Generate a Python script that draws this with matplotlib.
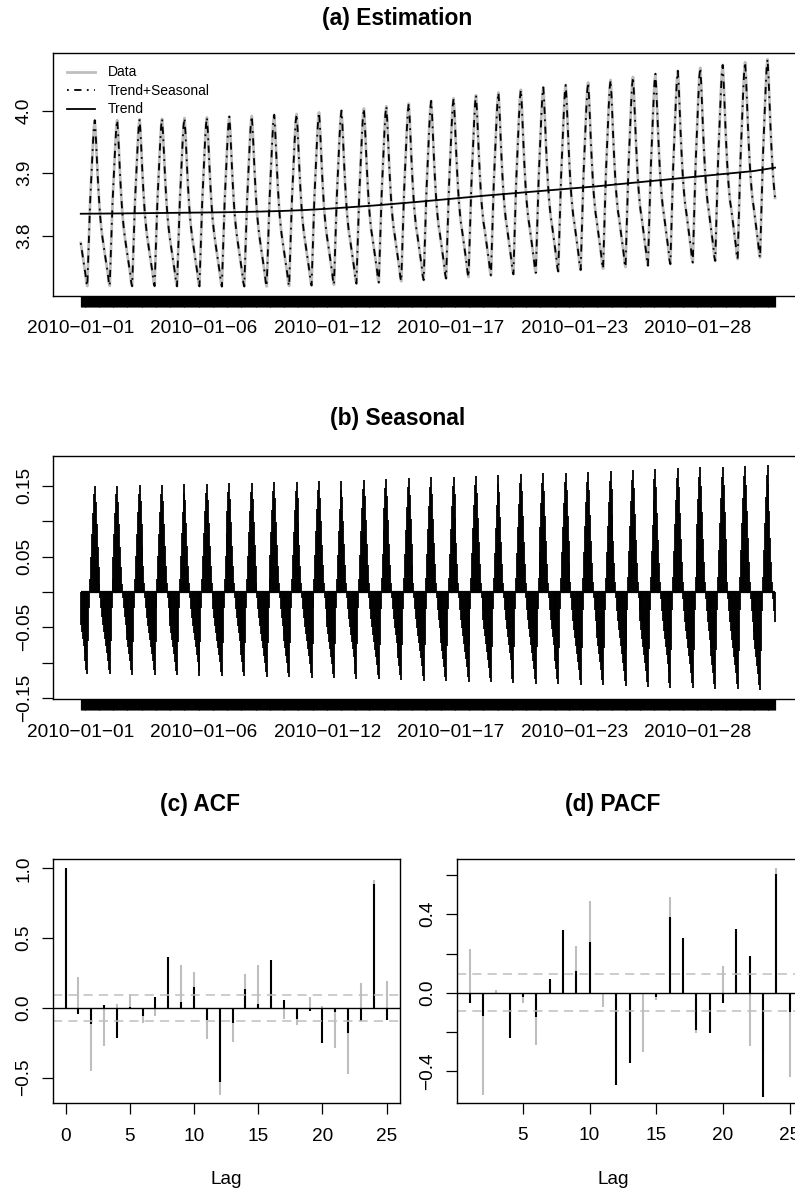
import numpy as np
import pandas as pd
import matplotlib
matplotlib.use("Agg")
import matplotlib.pyplot as plt

plt.rcParams['font.family'] = ['Liberation Sans', 'DejaVu Sans']

# ---------------- data ----------------
start_date = "2010-01-01"
n_hours = 744
tick_every = 132

# hourly seasonal profile (hour 0..23)
seasonal_profile = [-0.047, -0.057, -0.067, -0.077, -0.087, -0.097,
                    -0.110, -0.116, -0.070, -0.022, 0.018, 0.050,
                    0.082, 0.112, 0.138, 0.150, 0.128, 0.096,
                    0.064, 0.036, 0.012, -0.008, -0.023, -0.036]

# daily amplitude multiplier of the seasonal profile (31 days)
daily_amplitude = [1.000, 1.000, 1.007, 1.009, 1.015, 1.019, 1.025, 1.028,
                   1.035, 1.037, 1.044, 1.050, 1.056, 1.063, 1.072, 1.081,
                   1.087, 1.097, 1.103, 1.113, 1.119, 1.125, 1.131, 1.138,
                   1.147, 1.157, 1.166, 1.175, 1.182, 1.188, 1.197]

# trend at day boundaries (day 0 .. day 31)
trend_daily = [3.8350, 3.8353, 3.8356, 3.8360, 3.8364, 3.8368, 3.8372, 3.8377,
               3.8385, 3.8395, 3.8410, 3.8430, 3.8455, 3.8480, 3.8510, 3.8540,
               3.8573, 3.8606, 3.8640, 3.8670, 3.8700, 3.8730, 3.8760, 3.8790,
               3.8825, 3.8860, 3.8895, 3.8930, 3.8965, 3.9000, 3.9035, 3.9090]

acf_lags = list(range(26))
acf_black = [1.0, -0.048, -0.113, 0.020, -0.216, 0.005, -0.058, 0.080, 0.363,
             0.038, 0.147, -0.089, -0.534, -0.108, 0.135, 0.026, 0.344, 0.055,
             -0.082, -0.022, -0.250, -0.029, -0.180, -0.096, 0.885, -0.089]
acf_grey = [1.0, 0.224, -0.450, -0.276, 0.024, 0.096, -0.108, -0.058, 0.050,
            0.308, 0.255, -0.221, -0.625, -0.245, 0.243, 0.308, 0.100, -0.077,
            -0.120, 0.080, 0.010, -0.288, -0.474, 0.175, 0.920, 0.192]

pacf_lags = list(range(1, 26))
pacf_black = [-0.054, -0.117, -0.003, -0.231, -0.020, -0.122, 0.071, 0.319,
              0.112, 0.260, -0.004, -0.470, -0.357, -0.004, -0.020, 0.387,
              0.280, -0.190, -0.204, -0.054, 0.324, 0.189, -0.533, 0.603, -0.097]
pacf_grey = [0.221, -0.521, 0.012, -0.100, -0.051, -0.267, 0.030, 0.100,
             0.238, 0.469, -0.071, -0.300, -0.200, -0.300, -0.037, 0.489,
             0.100, -0.204, -0.100, 0.136, 0.100, -0.270, -0.300, 0.634, -0.428]

ci_level = 0.095

titles = ["(a) Estimation", "(b) Seasonal", "(c) ACF", "(d) PACF"]

# ---------------- derived series ----------------
hours = np.arange(n_hours)
day = hours // 24
hod = hours % 24
dates = pd.date_range(start_date, periods=n_hours, freq="h")
seasonal = np.array(daily_amplitude)[day] * np.array(seasonal_profile)[hod]
trend_h = np.array(trend_daily)[day]
fit = trend_h + seasonal
data = fit.copy()
trend_x = np.minimum(np.arange(len(trend_daily)) * 24, n_hours - 1)

MINUS = "\u2212"
def fmt(v, nd):
    s = f"{v:.{nd}f}"
    return s.replace("-", MINUS)

# ---------------- figure ----------------
W, H = 795, 1197
fig = plt.figure(figsize=(W / 100, H / 100), dpi=100)

def ax_px(left, top, right, bottom):
    return fig.add_axes([left / W, 1 - bottom / H, (right - left) / W, (bottom - top) / H])

FS = 13.7
GREY = "#BEBEBE"

def style(ax):
    for s in ax.spines.values():
        s.set_linewidth(1.0)
    ax.tick_params(axis="both", which="both", direction="out", length=8, width=0.9,
                   labelsize=FS)
    ax.tick_params(axis="x", pad=9.5)
    ax.tick_params(axis="y", pad=6.5)

def date_axis(ax):
    ax.set_xlim(-0.04 * (n_hours - 1), (n_hours - 1) * 1.04)
    major = hours[::tick_every]
    ax.set_xticks(major)
    ax.set_xticklabels([dates[i].strftime("%Y-%m-%d").replace("-", MINUS) for i in major])
    ax.set_xticks(hours, minor=True)
    ax.tick_params(axis="x", which="minor", length=8, width=0.9)

# (a) Estimation
ax1 = ax_px(53, 53, 802.8, 296)
style(ax1)
ax1.plot(hours, data, color=GREY, lw=2.0, label="Data")
ax1.plot(hours, fit, color="black", lw=1.3, ls=(0, (1, 3, 4, 3)), label="Trend+Seasonal")
ax1.plot(trend_x, trend_daily, color="black", lw=1.3, label="Trend")
date_axis(ax1)
ax1.set_ylim(3.703, 4.093)
yt = [3.8, 3.9, 4.0]
ax1.set_yticks(yt)
ax1.set_yticklabels([fmt(v, 1) for v in yt], rotation=90, va="center")
ax1.legend(loc="upper left", bbox_to_anchor=(66.7 / W, 1 - 65.5 / H),
           bbox_transform=fig.transFigure, frameon=False, fontsize=10,
           borderpad=0, borderaxespad=0, handlelength=2.04, handletextpad=0.94,
           labelspacing=0.32)

# (b) Seasonal
ax2 = ax_px(53, 456, 802.8, 699.3)
style(ax2)
ax2.vlines(hours, 0, seasonal, color="black", lw=1.3)
ax2.hlines(0, hours[0], hours[-1], color="black", lw=1.6)
date_axis(ax2)
ax2.set_ylim(-0.1518, 0.1924)
yt2 = [-0.15, -0.10, -0.05, 0.0, 0.05, 0.10, 0.15]
ax2.set_yticks(yt2)
ax2.set_yticklabels([fmt(v, 2) if i % 2 == 0 else "" for i, v in enumerate(yt2)],
                    rotation=90, va="center")

# (c) ACF
ax3 = ax_px(52.7, 859.3, 399.5, 1103.3)
style(ax3)
ax3.vlines(acf_lags, 0, acf_grey, color=GREY, lw=1.5)
ax3.vlines(acf_lags, 0, acf_black, color="black", lw=1.5)
ax3.axhline(0, color="black", lw=1.0)
for c in (ci_level, -ci_level):
    ax3.axhline(c, color=GREY, lw=1.1, ls=(0, (6, 4)))
ax3.set_xlim(-1, 26)
ax3.set_ylim(-0.685, 1.065)
ax3.set_xticks([0, 5, 10, 15, 20, 25])
yt3 = [-0.5, 0.0, 0.5, 1.0]
ax3.set_yticks(yt3)
ax3.set_yticklabels([fmt(v, 1) for v in yt3], rotation=90, va="center")

# (d) PACF
ax4 = ax_px(456.7, 859.3, 802.5, 1102.7)
style(ax4)
ax4.vlines(pacf_lags, 0, pacf_grey, color=GREY, lw=1.5)
ax4.vlines(pacf_lags, 0, pacf_black, color="black", lw=1.5)
ax4.axhline(0, color="black", lw=1.0)
for c in (ci_level, -ci_level):
    ax4.axhline(c, color=GREY, lw=1.1, ls=(0, (6, 4)))
ax4.set_xlim(0.04, 25.96)
ax4.set_ylim(-0.56, 0.68)
ax4.set_xticks([5, 10, 15, 20, 25])
yt4 = [-0.4, -0.2, 0.0, 0.2, 0.4, 0.6]
ax4.set_yticks(yt4)
ax4.set_yticklabels([fmt(v, 1) if v in (-0.4, 0.0, 0.4) else "" for v in yt4],
                    rotation=90, va="center")

# titles and labels
def ftext(x, y, s, **kw):
    fig.text(x / W, 1 - y / H, s, ha="center", va="center", **kw)

ftext(397.5, 18, titles[0], fontsize=16.4, fontweight="bold")
ftext(397.5, 418, titles[1], fontsize=16.4, fontweight="bold")
ftext(200, 805, titles[2], fontsize=16.4, fontweight="bold")
ftext(613, 805, titles[3], fontsize=16.4, fontweight="bold")
ftext(226, 1180, "Lag", fontsize=FS)
ftext(613, 1180, "Lag", fontsize=FS)

fig.savefig("out.png", dpi=100)
